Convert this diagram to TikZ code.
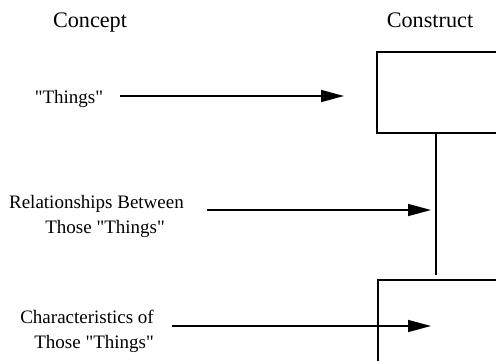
\documentclass[tikz,border=0pt]{standalone}
\usepackage{fontspec}
\setmainfont{Liberation Serif}[Ligatures=TeXOff]
\usetikzlibrary{arrows.meta}
\begin{document}
\begin{tikzpicture}[x=1pt,y=-1pt,
  lbl/.style={inner sep=0pt,font=\fontsize{19}{22}\selectfont},
  head/.style={inner sep=0pt,font=\fontsize{22.2}{26}\selectfont},
  boxst/.style={draw,line width=1.5pt,inner sep=0pt,anchor=north west},
  arr/.style={line width=1.5pt,-{Triangle[length=23pt,width=12pt]}},
  conn/.style={line width=1.5pt}]
\useasboundingbox (0,0) rectangle (496,360);
\clip (0,0) rectangle (496,360);
\node[head,anchor=base] (concept) at (90,27) {Concept};
\node[head,anchor=base] (construct) at (430,27) {Construct};
\node[boxst,minimum width=200pt,minimum height=81pt] (box1) at (376,51) {};
\node[boxst,minimum width=200pt,minimum height=140pt] (box2) at (377,279) {};
\node[lbl,anchor=base] (things) at (69,103) {"Things"};
\node[lbl,anchor=base east] (rel1) at (184,208) {Relationships Between};
\node[lbl,anchor=base east] (rel2) at (165,233) {Those "Things"};
\node[lbl,anchor=base east] (char1) at (154,323) {Characteristics of};
\node[lbl,anchor=base east] (char2) at (154,348) {Those "Things"};
\coordinate (a1s) at (120,96);
\coordinate (a1e) at (344,96);
\coordinate (a2s) at (207,210);
\coordinate (a2e) at (431,210);
\coordinate (a3s) at (172,326);
\coordinate (a3e) at (431,326);
\coordinate (vtop) at (436,132);
\coordinate (vbot) at (436,275);
\draw[arr] (a1s) -- (a1e);
\draw[arr] (a2s) -- (a2e);
\draw[arr] (a3s) -- (a3e);
\draw[conn] (vtop) -- (vbot);
\end{tikzpicture}
\end{document}
